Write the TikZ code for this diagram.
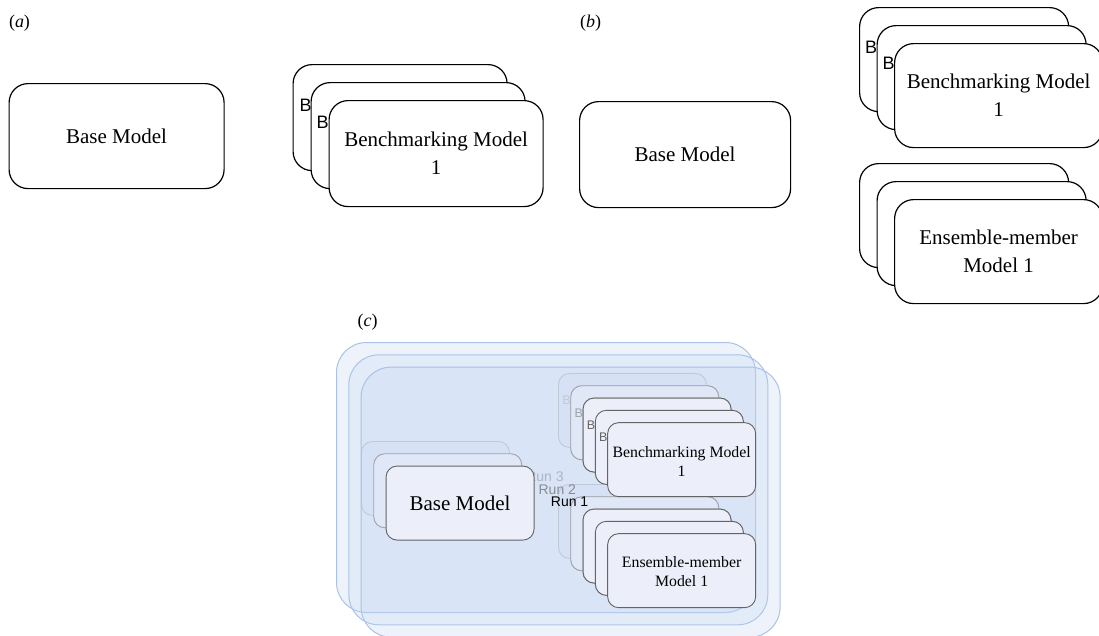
\documentclass[tikz,border=0pt]{standalone}
\usepackage{fontspec}
\setmainfont{Liberation Serif}
\setsansfont{Liberation Sans}
\definecolor{bluefill}{RGB}{190,210,240}
\definecolor{blueline}{RGB}{170,194,230}
\definecolor{cfill}{RGB}{236,239,250}
\tikzset{
  plain/.style={draw=black, line width=1.2pt, fill=white, rounded corners=19pt,
    minimum width=214pt, minimum height=106pt, anchor=north west, inner sep=0pt,
    align=center, font=\fontsize{21}{28}\selectfont},
  lettB/.style={font=\sffamily\fontsize{18}{18}\selectfont, inner sep=0pt},
  panel/.style={font=\fontsize{18}{18}\selectfont, inner sep=0pt},
  runbox/.style={draw=blueline, line width=1pt, fill=bluefill, fill opacity=0.26,
    rounded corners=30pt, minimum width=419pt, minimum height=270pt,
    anchor=north west, inner sep=0pt},
  cbox/.style={fill=cfill, line width=0.9pt, rounded corners=11pt,
    minimum width=148pt, minimum height=74pt, anchor=north west, inner sep=0pt},
  clett/.style={font=\sffamily\fontsize{12.5}{12.5}\selectfont, inner sep=0pt},
  runlab/.style={font=\sffamily\fontsize{14}{14}\selectfont, inner sep=0pt},
  bigtxt/.style={font=\fontsize{21}{25}\selectfont, align=center, inner sep=0pt},
  smalltxt/.style={font=\fontsize{15.8}{19}\selectfont, align=center, inner sep=0pt},
}
\begin{document}
\begin{tikzpicture}[x=1pt,y=-1pt]
\useasboundingbox (0,0) rectangle (1099,635);

% ---------- panel (a)
\node[panel] (la) at (19.5,23) {(\textit{a})};
\node[plain, minimum width=215pt, minimum height=105pt] (abase) at (8.5,83) {Base Model};
\node[plain] (ab3) at (292.5,64) {};
\node[lettB] (ab3t) at ([shift={(13,41)}]ab3.north west) {B};
\node[plain] (ab2) at (310.5,82) {};
\node[lettB] (ab2t) at ([shift={(12,40)}]ab2.north west) {B};
\node[plain] (ab1) at (328.5,100) {Benchmarking Model\\1};

% ---------- panel (b)
\node[panel] (lb) at (590.5,23) {(\textit{b})};
\node[plain, minimum width=211pt] (bbase) at (579,101) {Base Model};
\node[plain, minimum width=209pt, minimum height=104pt] (bb3) at (859,7) {};
\node[lettB] (bb3t) at ([shift={(12,40)}]bb3.north west) {B};
\node[plain, minimum width=209pt, minimum height=104pt] (bb2) at (876.5,25) {};
\node[lettB] (bb2t) at ([shift={(12,38)}]bb2.north west) {B};
\node[plain, minimum width=208pt, minimum height=104pt] (bb1) at (894,43) {Benchmarking Model\\1};
\node[plain, minimum width=209pt, minimum height=104pt] (be3) at (859,163) {};
\node[plain, minimum width=209pt, minimum height=104pt] (be2) at (876.5,181) {};
\node[plain, minimum width=208pt, minimum height=104pt] (be1) at (894,199) {Ensemble-member\\Model 1};

% ---------- panel (c)
\node[panel] (lc) at (367.5,322) {(\textit{c})};
\foreach \r/\o/\bc/\tc in {3/0/195/160, 2/12.3/147/118, 1/24.6/100/0} {
  \node[runbox] (run\r) at ({336+\o},{342+\o}) {};
  \node[cbox, draw={rgb,255:red,\bc;green,\bc;blue,\bc}] (base\r) at ({361+\o},{441+\o}) {};
  \foreach \k in {0,1,2} {
    \node[cbox, draw={rgb,255:red,\bc;green,\bc;blue,\bc}] (bench\r-\k)
      at ({558+\o+12.3*\k},{373+\o+12.3*\k}) {};
    \ifnum\k<2
      \node[clett, text={rgb,255:red,\bc;green,\bc;blue,\bc}] (benchB\r-\k)
        at ([shift={(8.5,27.5)}]bench\r-\k.north west) {B};
    \fi
  }
  \foreach \k in {0,1,2} {
    \node[cbox, draw={rgb,255:red,\bc;green,\bc;blue,\bc}] (ens\r-\k)
      at ({558+\o+12.3*\k},{484+\o+12.3*\k}) {};
  }
  \node[runlab, text={rgb,255:red,\tc;green,\tc;blue,\tc}] (runlab\r) at ({545+\o},{477+\o}) {Run \r};
}
\node[bigtxt] (basetxt) at (base1.center) {Base Model};
\node[smalltxt] (benchtxt) at ([yshift=-1.5pt]bench1-2.center) {Benchmarking Model\\1};
\node[smalltxt] (enstxt) at ([yshift=-1pt]ens1-2.center) {Ensemble-member\\Model 1};
\end{tikzpicture}
\end{document}
